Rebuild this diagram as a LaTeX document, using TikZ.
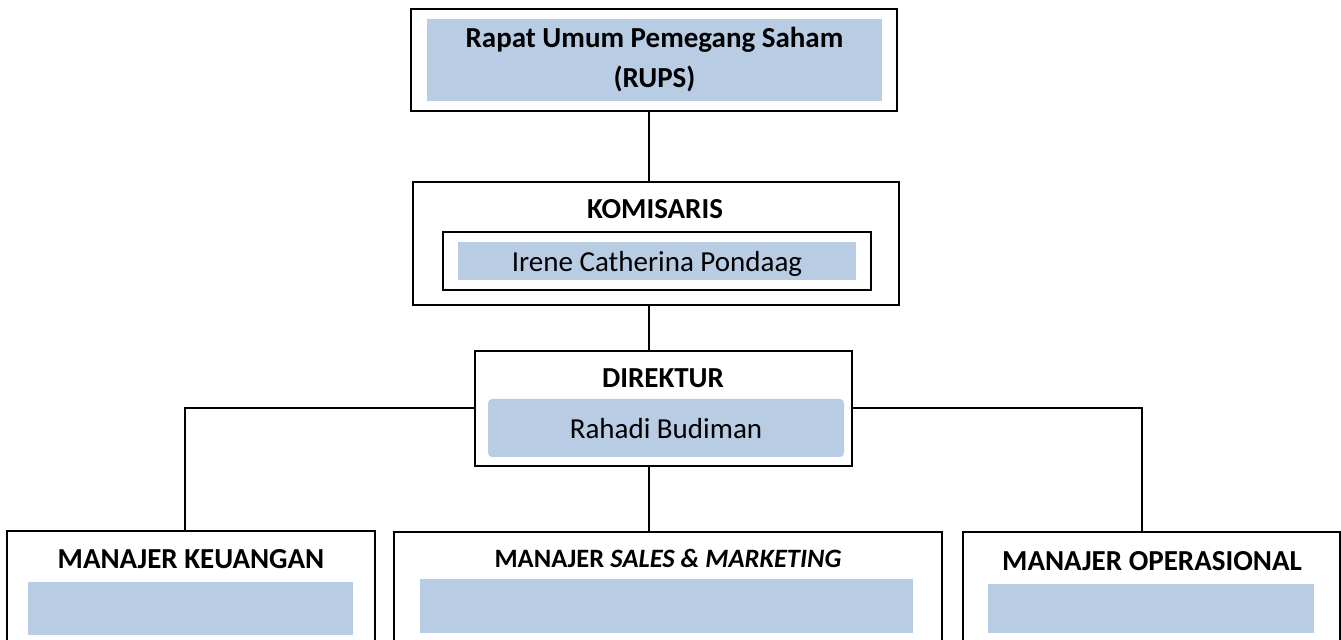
\documentclass[tikz,border=0pt]{standalone}
\usepackage{fontspec}
\setmainfont{Carlito}
\definecolor{boxblue}{HTML}{B8CCE4}
\begin{document}
\begin{tikzpicture}[
    x=0.5pt, y=-0.5pt,
    font=\fontsize{14.5}{20}\selectfont,
    orgbox/.style={rectangle, draw, line width=1pt, inner sep=0pt, outer sep=0pt},
    fillbox/.style={rectangle, fill=boxblue, inner sep=0pt, outer sep=0pt},
    head/.style={anchor=base, font=\fontsize{14.5}{20}\selectfont\bfseries},
    link/.style={line width=1pt}
]
\useasboundingbox (0,0) rectangle (1341,640);

\node[orgbox, minimum width=243pt, minimum height=51pt] (rups) at (654,60) {};
\node[fillbox, minimum width=227.5pt, minimum height=41pt, align=center, font=\fontsize{14.5}{20}\selectfont\bfseries] (rupsfill) at (654.5,60) {Rapat Umum Pemegang Saham\\(RUPS)};

\node[orgbox, minimum width=243pt, minimum height=61.5pt] (kom) at (656,243.5) {};
\node[head] (komtitle) at (655,219) {KOMISARIS};
\node[orgbox, line width=0.7pt, minimum width=214pt, minimum height=29pt] (kominner) at (657,261) {};
\node[fillbox, text depth=0pt, minimum width=199pt, minimum height=19pt] (komfill) at (657,261) {Irene Catherina Pondaag};

\node[orgbox, minimum width=188.5pt, minimum height=57.5pt] (dir) at (663.5,408.5) {};
\node[head] (dirtitle) at (663,388) {DIREKTUR};
\node[fillbox, text depth=0pt, rounded corners=2pt, minimum width=178pt, minimum height=29pt] (dirfill) at (666,428) {Rahadi Budiman};

\node[orgbox, minimum width=184pt, minimum height=64.5pt] (keu) at (191,595.5) {};
\node[head] (keutitle) at (191,569) {MANAJER KEUANGAN};
\node[fillbox, minimum width=162.5pt, minimum height=26.5pt] (keufill) at (190.5,608.5) {};

\node[orgbox, minimum width=274pt, minimum height=64pt] (sal) at (668,596) {};
\node[head, font=\fontsize{13.25}{18}\selectfont\bfseries] (saltitle) at (668,568) {MANAJER \textit{SALES \& MARKETING}};
\node[fillbox, minimum width=246.5pt, minimum height=27pt] (salfill) at (666.5,606) {};

\node[orgbox, minimum width=188.5pt, minimum height=64pt] (ops) at (1151.5,596) {};
\node[head] (opstitle) at (1152,571) {MANAJER OPERASIONAL};
\node[fillbox, minimum width=163pt, minimum height=24.5pt] (opsfill) at (1151,608.5) {};

\coordinate (spine) at (649,0);
\coordinate (keujoin) at (185,408.5);
\coordinate (opsjoin) at (1142,408.5);

\draw[link] (spine |- rups.south) -- (spine |- kom.north);
\draw[link] (spine |- kom.south) -- (spine |- dir.north);
\draw[link] (spine |- dir.south) -- (spine |- sal.north);
\draw[link] (dir.west) -- (keujoin) -- (keujoin |- keu.north);
\draw[link] (dir.east) -- (opsjoin) -- (opsjoin |- ops.north);
\end{tikzpicture}
\end{document}
